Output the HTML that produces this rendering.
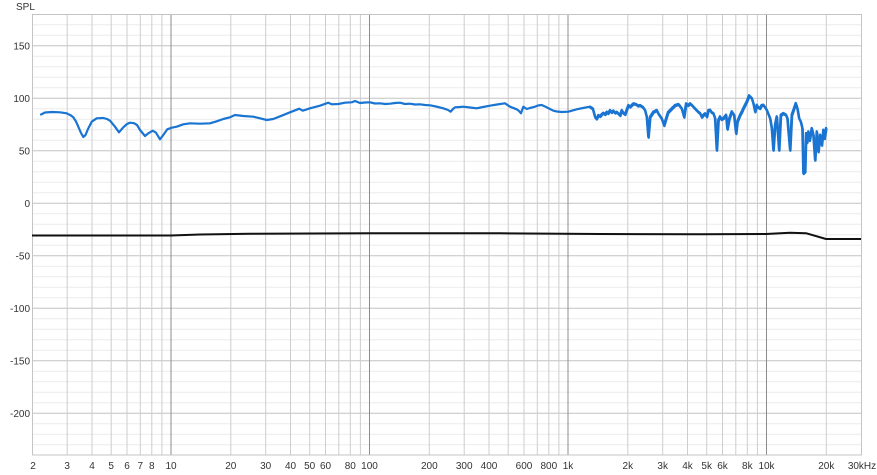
<!DOCTYPE html>
<html><head><meta charset="utf-8"><style>
html,body{margin:0;padding:0;background:#fff;}
svg{display:block;}
text{font-family:"Liberation Sans",Arial,sans-serif;font-size:10px;fill:#333;}
</style></head><body>
<svg width="877" height="475" viewBox="0 0 877 475" xmlns="http://www.w3.org/2000/svg">
<rect x="0" y="0" width="877" height="475" fill="#fff"/>
<g stroke="#ececec" stroke-width="1">
<line x1="32" x2="861" y1="24.8" y2="24.8"/><line x1="32" x2="861" y1="35.3" y2="35.3"/>
<line x1="32" x2="861" y1="56.3" y2="56.3"/><line x1="32" x2="861" y1="66.8" y2="66.8"/>
<line x1="32" x2="861" y1="77.3" y2="77.3"/><line x1="32" x2="861" y1="87.8" y2="87.8"/>
<line x1="32" x2="861" y1="108.8" y2="108.8"/><line x1="32" x2="861" y1="119.3" y2="119.3"/>
<line x1="32" x2="861" y1="129.8" y2="129.8"/><line x1="32" x2="861" y1="140.3" y2="140.3"/>
<line x1="32" x2="861" y1="161.3" y2="161.3"/><line x1="32" x2="861" y1="171.8" y2="171.8"/>
<line x1="32" x2="861" y1="182.3" y2="182.3"/><line x1="32" x2="861" y1="192.8" y2="192.8"/>
<line x1="32" x2="861" y1="213.8" y2="213.8"/><line x1="32" x2="861" y1="224.3" y2="224.3"/>
<line x1="32" x2="861" y1="234.8" y2="234.8"/><line x1="32" x2="861" y1="245.3" y2="245.3"/>
<line x1="32" x2="861" y1="266.3" y2="266.3"/><line x1="32" x2="861" y1="276.8" y2="276.8"/>
<line x1="32" x2="861" y1="287.3" y2="287.3"/><line x1="32" x2="861" y1="297.8" y2="297.8"/>
<line x1="32" x2="861" y1="318.8" y2="318.8"/><line x1="32" x2="861" y1="329.3" y2="329.3"/>
<line x1="32" x2="861" y1="339.8" y2="339.8"/><line x1="32" x2="861" y1="350.3" y2="350.3"/>
<line x1="32" x2="861" y1="371.3" y2="371.3"/><line x1="32" x2="861" y1="381.8" y2="381.8"/>
<line x1="32" x2="861" y1="392.3" y2="392.3"/><line x1="32" x2="861" y1="402.8" y2="402.8"/>
<line x1="32" x2="861" y1="423.8" y2="423.8"/><line x1="32" x2="861" y1="434.3" y2="434.3"/>
<line x1="32" x2="861" y1="444.8" y2="444.8"/>
</g>
<g stroke="#c4c4c4" stroke-width="1">
<line x1="32" x2="861" y1="45.8" y2="45.8"/><line x1="32" x2="861" y1="98.3" y2="98.3"/>
<line x1="32" x2="861" y1="150.8" y2="150.8"/><line x1="32" x2="861" y1="203.3" y2="203.3"/>
<line x1="32" x2="861" y1="255.8" y2="255.8"/><line x1="32" x2="861" y1="308.3" y2="308.3"/>
<line x1="32" x2="861" y1="360.8" y2="360.8"/><line x1="32" x2="861" y1="413.3" y2="413.3"/>
</g>
<g stroke="#cdcdcd" stroke-width="1">
<line y1="14" y2="455" x1="67.2" x2="67.2"/><line y1="14" y2="455" x1="92" x2="92"/>
<line y1="14" y2="455" x1="111.2" x2="111.2"/><line y1="14" y2="455" x1="127" x2="127"/>
<line y1="14" y2="455" x1="140.3" x2="140.3"/><line y1="14" y2="455" x1="151.8" x2="151.8"/>
<line y1="14" y2="455" x1="161.9" x2="161.9"/>
<line y1="14" y2="455" x1="230.8" x2="230.8"/><line y1="14" y2="455" x1="265.7" x2="265.7"/>
<line y1="14" y2="455" x1="290.5" x2="290.5"/><line y1="14" y2="455" x1="309.7" x2="309.7"/>
<line y1="14" y2="455" x1="325.5" x2="325.5"/><line y1="14" y2="455" x1="338.8" x2="338.8"/>
<line y1="14" y2="455" x1="350.3" x2="350.3"/><line y1="14" y2="455" x1="360.4" x2="360.4"/>
<line y1="14" y2="455" x1="429.3" x2="429.3"/><line y1="14" y2="455" x1="464.2" x2="464.2"/>
<line y1="14" y2="455" x1="489" x2="489"/><line y1="14" y2="455" x1="508.2" x2="508.2"/>
<line y1="14" y2="455" x1="524" x2="524"/><line y1="14" y2="455" x1="537.3" x2="537.3"/>
<line y1="14" y2="455" x1="548.8" x2="548.8"/><line y1="14" y2="455" x1="558.9" x2="558.9"/>
<line y1="14" y2="455" x1="627.8" x2="627.8"/><line y1="14" y2="455" x1="662.7" x2="662.7"/>
<line y1="14" y2="455" x1="687.5" x2="687.5"/><line y1="14" y2="455" x1="706.7" x2="706.7"/>
<line y1="14" y2="455" x1="722.5" x2="722.5"/><line y1="14" y2="455" x1="735.8" x2="735.8"/>
<line y1="14" y2="455" x1="747.3" x2="747.3"/><line y1="14" y2="455" x1="757.4" x2="757.4"/>
<line y1="14" y2="455" x1="826.3" x2="826.3"/>
</g>
<g stroke="#8c8c8c" stroke-width="1">
<line y1="14" y2="455" x1="171" x2="171"/><line y1="14" y2="455" x1="369.5" x2="369.5"/>
<line y1="14" y2="455" x1="568" x2="568"/><line y1="14" y2="455" x1="766.5" x2="766.5"/>
</g>
<rect x="32.5" y="14.5" width="829" height="440.5" fill="none" stroke="#c4c4c4" stroke-width="1"/>

<polyline fill="none" stroke="#111" stroke-width="2" stroke-linejoin="round"
points="32,235.5 171,235.5 200,234.5 250,233.8 370,233.3 500,233.3 600,234 700,234.2 766,234 790,232.8 806,233.2 826,239 861,239"/>

<!-- blue curve, low/mid frequencies -->
<polyline fill="none" stroke="#1a74d2" stroke-width="2.2" stroke-linejoin="round" stroke-linecap="round"
points="41,114.5 45,112.5 52,112 60,112.3 66.7,113.3 71,115.5 73.3,117.3 76,121.5 78.3,126.7 81,133 83.3,137 85.5,135 88,129 91.7,121.7 96.7,118.3 103.3,118 107,119 110,120.7 115,126.7 119,132.3 123.3,127.3 127,124 130,122.7 134,123.2 137,125 140,130 145,136 148.3,133.3 152.7,130.7 156,132.7 160,139.3 163.3,135 167.3,129.3 171.7,127.7 176.7,126.7 183.3,124.3 190,123.3 200,123.7 210,123.3 216.7,121.3 223.3,119 230,117.3 235,115 243.3,116 253.3,116.7 260,118.3 266.7,120 273.3,119 281.7,115.7 290,112.3 299.3,108.7 302.7,110.7 310,108.3 320,105.7 328.3,102.7 331.7,104.3 338.3,104 345,102.7 351.7,102.3 355,101 360,103 365,102.5 370,102.3 375,103.5 380,103.3 385,104 390,103.7 395,103 400,102.7 405,104 410,103.7 415,104.5 420,104.3 425,105 430,105.3 436,106.5 443.3,108.3 448,110 450.7,111.7 453,109 455,107.3 460,107 463.3,106.7 470,107.5 476.7,108.3 483,107 490,105.7 497,104.5 505,103.3 510,106.7 516.7,109.3 519,111 521,113.3 523.3,106.7 526.7,109 530,108 535,106.7 538,105.5 541.7,105 546.7,107.3 550,109 553.3,110.7 557,111.5 561.7,112 568.3,111.7 576.7,109.3 583,108 590,106.7"/>
<!-- blue curve, high frequencies (noisy, thicker) -->
<g fill="none" stroke="#1a74d2" stroke-linejoin="round" stroke-linecap="round">
<polyline id="hf" stroke-width="2.4"
points="590,106.7 592.7,108.3 595,116.7 596.5,118.5 598.3,115 600,116 601.7,114 603.3,112.7 605,114 606.7,111.7 608,113 610,110 611.5,112 613.3,110.5 615,112.5 616.7,111.7 618.3,113.3 620,115 621.7,110 623.5,113 625,114 628.3,105 630,106.5 633.3,103.3 636,104 638,105.5 640,105 643,107 645,110 646.7,116.7 648.3,136.7 650,116.7 653.3,111.7 656.7,110 658.3,113.3 661.7,118.3 664,125 666,118.3 668,112 670,110 673.3,106.7 675,105 678.3,104 679.3,105 681.7,108.3 684,116.7 686,103.3 688,105 690,103.3 692,105 695,108.3 698.3,111.7 700,113 701.7,116.7 703.3,114.7 705,113.3 706.7,116.3 708.3,110 710,109.7 711.5,112 713.3,113 715,118 716.7,149.7 718.3,119.7 720,116.3 721.5,119 723.3,118 726,114.7 727.3,128.7 729.3,118 731.7,111.3 734,114.7 736,133 737.3,121.3 740,114.7 741.5,112 743.3,108 745,104.7 746.7,101.3 749,95.3 751.7,98 753.3,103 755,111.3 756.7,104.7 758,107 760,108 761.5,105 763.3,104.7 765,107 766.7,109.7 770,118 771.7,128 773.3,149.7 775,124.7 776.7,116.3 779,149.7 780.7,114.7 783.3,113 786,114.7 787.3,118 790,149.7 791.7,114.7 794,108 795.7,103 797.3,108 799,118 800.7,121.3 802.3,128 803.3,173 805,171.3 806,133 807,142 808.3,131.3 809.5,140 811.7,128 813.3,134.7 815,159.7 816.7,131.3 818.3,151.3 820,134.7 821.7,144.7 823.3,129.7 824.5,138 826,128"/>
<use href="#hf" transform="translate(0.4,1)" stroke-width="1.4"/>
</g>

<text x="16" y="10">SPL</text>
<g text-anchor="end">
<text x="30" y="49.3">150</text>
<text x="30" y="101.8">100</text>
<text x="30" y="154.3">50</text>
<text x="30" y="206.8">0</text>
<text x="30" y="259.3">-50</text>
<text x="30" y="311.8">-100</text>
<text x="30" y="364.3">-150</text>
<text x="30" y="416.8">-200</text>
</g>
<g text-anchor="middle">
<text x="33" y="469">2</text>
<text x="67.2" y="469">3</text>
<text x="92" y="469">4</text>
<text x="111.2" y="469">5</text>
<text x="127" y="469">6</text>
<text x="140.3" y="469">7</text>
<text x="151.8" y="469">8</text>
<text x="171" y="469">10</text>
<text x="230.8" y="469">20</text>
<text x="265.7" y="469">30</text>
<text x="290.5" y="469">40</text>
<text x="309.7" y="469">50</text>
<text x="325.5" y="469">60</text>
<text x="350.3" y="469">80</text>
<text x="369.5" y="469">100</text>
<text x="429.3" y="469">200</text>
<text x="464.2" y="469">300</text>
<text x="489" y="469">400</text>
<text x="524" y="469">600</text>
<text x="548.8" y="469">800</text>
<text x="568" y="469">1k</text>
<text x="627.8" y="469">2k</text>
<text x="662.7" y="469">3k</text>
<text x="687.5" y="469">4k</text>
<text x="706.7" y="469">5k</text>
<text x="722.5" y="469">6k</text>
<text x="747.3" y="469">8k</text>
<text x="766.5" y="469">10k</text>
<text x="826.3" y="469">20k</text>
<text x="862" y="469">30kHz</text>
</g>
</svg>
</body></html>
